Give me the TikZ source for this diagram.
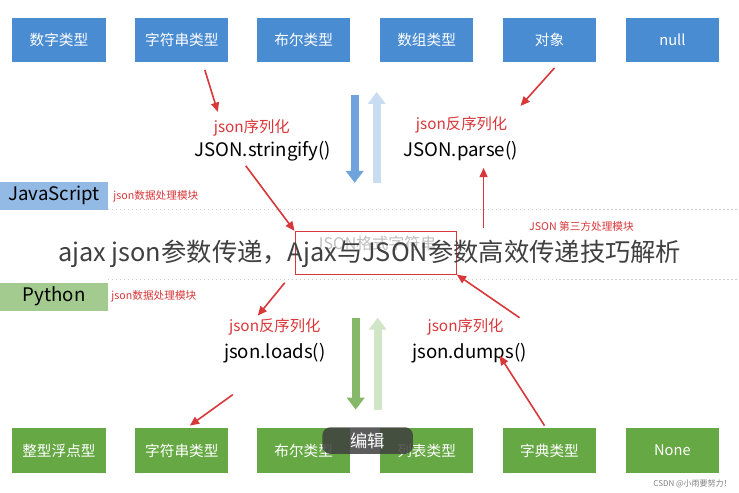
\documentclass[tikz,border=0pt]{standalone}
\usepackage{fontspec}
\setmainfont{Noto Sans CJK SC}
\usetikzlibrary{arrows.meta}
\definecolor{bbox}{HTML}{4A8CD2}
\definecolor{gbox}{HTML}{66A844}
\definecolor{rd}{HTML}{D9383A}
\tikzset{x=0.75pt,y=-0.75pt,
 tb/.style={fill=bbox,text=white,minimum width=70pt,minimum height=33pt,inner sep=0,font=\fontsize{11}{11}\selectfont},
 bb/.style={fill=gbox,text=white,minimum width=70pt,minimum height=34pt,inner sep=0,font=\fontsize{11}{11}\selectfont},
 rl/.style={text=rd,font=\fontsize{11.5}{12}\selectfont,inner sep=1pt},
 fn/.style={text=black,font=\fontsize{14}{14}\selectfont,inner sep=1pt},
 sl/.style={text=rd,font=\fontsize{8}{8}\selectfont,inner sep=1pt},
 ra/.style={draw=rd,line width=1.2pt,-{Triangle[length=7pt,width=6pt]}},
 fat/.style={line width=6pt,-{Triangle[length=9pt,width=13pt]}}}
\begin{document}
\begin{tikzpicture}
\fill[white] (0,0) rectangle (739,490);
\foreach \n/\x/\t in {t1/59/数字类型,t2/182/字符串类型,t3/304/布尔类型,t4/427/数组类型,t5/550/对象,t6/673/null}
 \node[tb] (\n) at (\x,40) {\t};
\foreach \n/\x/\t in {b1/59/整型浮点型,b2/182/字符串类型,b3/304/布尔类型,b4/427/列表类型,b5/550/字典类型,b6/673/None}
 \node[bb] (\n) at (\x,451) {\t};
% fat arrows
\draw[fat,draw=bbox!80,fill=bbox!80] (355,95) -- (355,183);
\draw[fat,draw=bbox!30,fill=bbox!30] (377,183) -- (377,92);
\draw[fat,draw=gbox!80,fill=gbox!80] (356,318) -- (356,410);
\draw[fat,draw=gbox!30,fill=gbox!30] (378,410) -- (378,318);
% labels
\node[rl] (l1) at (252,128) {json序列化};
\node[fn] (f1) at (263,151) {JSON.stringify()};
\node[rl] (l2) at (462,125) {json反序列化};
\node[fn] (f2) at (461,151) {JSON.parse()};
\node[rl] (l3) at (275,327) {json反序列化};
\node[fn] (f3) at (275,353) {json.loads()};
\node[rl] (l4) at (466,327) {json序列化};
\node[fn] (f4) at (470,353) {json.dumps()};
% side
\node[fill=bbox!60,minimum width=81pt,minimum height=21pt,inner sep=0,anchor=west,font=\fontsize{14}{14}\selectfont] (js) at (0,196) {JavaScript};
\node[sl,anchor=west] (jsl) at (112,196) {json数据处理模块};
\node[fill=gbox!60,minimum width=81pt,minimum height=21pt,inner sep=0,anchor=west,font=\fontsize{14}{14}\selectfont] (py) at (0,297) {Python};
\node[sl,anchor=west] (pyl) at (110,297) {json数据处理模块};
\draw[gray!40,dotted,line width=1pt] (108,210) -- (739,210);
\draw[gray!40,dotted,line width=1pt] (108,280) -- (739,280);
\node[sl] (tp) at (582,227) {JSON 第三方处理模块};
\node[draw=rd,line width=0.8pt,minimum width=121pt,minimum height=32pt] (c) at (376,253) {};
\node[text=gray!50,font=\fontsize{12}{12}\selectfont] (ct) at (376,244) {JSON格式字符串};
% red arrows
\draw[ra] (205,70) -- (218,112);
\draw[ra] (246,166) -- (c.north west);
\draw[ra] (484,228) -- (484,168);
\draw[ra] (555,68) -- (521,106);
\draw[ra] (285,283) -- (258,316);
\draw[ra] (233,395) -- (190,426);
\draw[ra] (545,426) -- (500,356);
\draw[ra] (520,318) -- (c.south east);
% overlays
\node[text=black!75,font=\fontsize{19}{19}\selectfont] (title) at (370,254) {ajax json参数传递，Ajax与JSON参数高效传递技巧解析};
\node[fill=black!75,fill opacity=0.85,text opacity=1,text=white,rounded corners=6pt,minimum width=68pt,minimum height=20pt,inner sep=0,font=\fontsize{13}{13}\selectfont] (ed) at (368,441) {编辑};
\node[text=gray,font=\fontsize{6}{6}\selectfont,anchor=east] (wm) at (737,484) {CSDN @小雨要努力！};
\end{tikzpicture}
\end{document}
